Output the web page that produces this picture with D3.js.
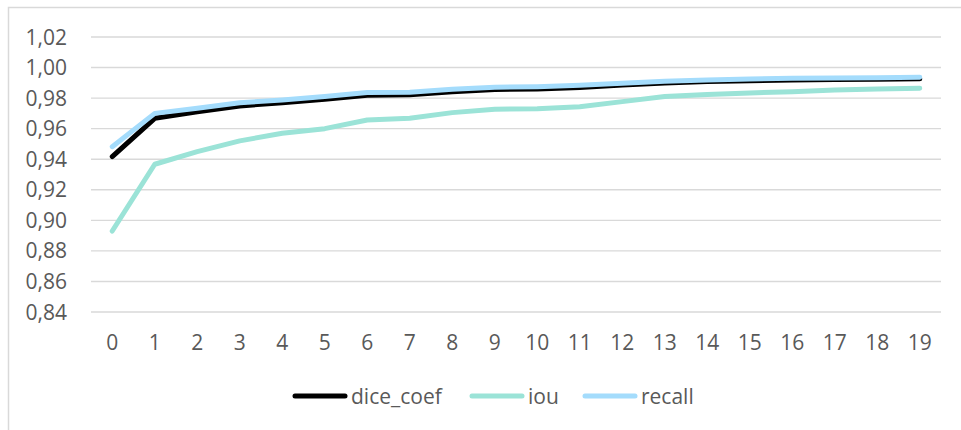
<!DOCTYPE html>
<html>
<head>
<meta charset="utf-8">
<script src="https://cdn.jsdelivr.net/npm/d3@7"></script>
<style>
  html, body { margin: 0; padding: 0; background: #fff; }
  svg { display: block; }
  text { font-family: "Open Sans", "Liberation Sans", sans-serif; fill: #595959; }
</style>
</head>
<body>
<svg id="chart" width="961" height="430"></svg>
<script>
// Training epochs
const epochs = d3.range(0, 20);

// Per-epoch metric values
const diceCoef = [0.9417, 0.9668, 0.9711, 0.9749, 0.9770, 0.9792, 0.9818, 0.9822, 0.9842, 0.9856,
                  0.9860, 0.9869, 0.9886, 0.9899, 0.9908, 0.9914, 0.9918, 0.9921, 0.9924, 0.9926];
const iou      = [0.8930, 0.9367, 0.9450, 0.9520, 0.9570, 0.9600, 0.9657, 0.9668, 0.9705, 0.9727,
                  0.9731, 0.9744, 0.9777, 0.9810, 0.9823, 0.9834, 0.9842, 0.9853, 0.9860, 0.9864];
const recall   = [0.9482, 0.9700, 0.9733, 0.9770, 0.9788, 0.9810, 0.9836, 0.9838, 0.9858, 0.9871,
                  0.9875, 0.9884, 0.9897, 0.9910, 0.9919, 0.9925, 0.9930, 0.9932, 0.9934, 0.9937];

// Axis ticks
const yTicks = [0.84, 0.86, 0.88, 0.90, 0.92, 0.94, 0.96, 0.98, 1.00, 1.02];

const seriesNames = ["dice_coef", "iou", "recall"];
const seriesColors = ["#000000", "#9be3d7", "#a4dcfc"];
const seriesData = [diceCoef, iou, recall];

const svg = d3.select("#chart");

// Outer chart frame
svg.append("rect")
  .attr("x", 8.5).attr("y", 7.5)
  .attr("width", 1000).attr("height", 1000)
  .attr("fill", "none")
  .attr("stroke", "#d9d9d9")
  .attr("stroke-width", 1.5);

const x = d3.scaleBand().domain(epochs).range([91, 941]).padding(0);
const y = d3.scaleLinear().domain([0.84, 1.02]).range([312, 37]);

const fmt = v => d3.format(".2f")(v).replace(".", ",");

// Horizontal gridlines
svg.append("g")
  .selectAll("line")
  .data(yTicks)
  .join("line")
  .attr("x1", x.range()[0])
  .attr("x2", x.range()[1])
  .attr("y1", d => y(d))
  .attr("y2", d => y(d))
  .attr("stroke", "#d9d9d9")
  .attr("stroke-width", 1.4);

// Y tick labels
svg.append("g")
  .selectAll("text")
  .data(yTicks)
  .join("text")
  .attr("x", 67)
  .attr("y", d => y(d) + 7.5)
  .attr("text-anchor", "end")
  .attr("font-size", 21)
  .text(fmt);

// X tick labels
svg.append("g")
  .selectAll("text")
  .data(epochs)
  .join("text")
  .attr("x", d => x(d) + x.bandwidth() / 2)
  .attr("y", 350)
  .attr("text-anchor", "middle")
  .attr("font-size", 21)
  .text(d => d);

// Series lines
const line = d3.line()
  .x((d, i) => x(epochs[i]) + x.bandwidth() / 2)
  .y(d => y(d));

svg.append("g")
  .selectAll("path")
  .data(seriesData)
  .join("path")
  .attr("d", d => line(d))
  .attr("fill", "none")
  .attr("stroke", (d, i) => seriesColors[i])
  .attr("stroke-width", 5)
  .attr("stroke-linecap", "round")
  .attr("stroke-linejoin", "round");

// Legend
const legendX = [293, 470, 583];
const legend = svg.append("g")
  .selectAll("g")
  .data(seriesNames)
  .join("g")
  .attr("transform", (d, i) => `translate(${legendX[i]},396)`);

legend.append("line")
  .attr("x1", 2).attr("x2", 52)
  .attr("y1", 0).attr("y2", 0)
  .attr("stroke", (d, i) => seriesColors[i])
  .attr("stroke-width", 5)
  .attr("stroke-linecap", "round");

legend.append("text")
  .attr("x", 58)
  .attr("y", 8)
  .attr("font-size", 21)
  .text(d => d);
</script>
</body>
</html>
